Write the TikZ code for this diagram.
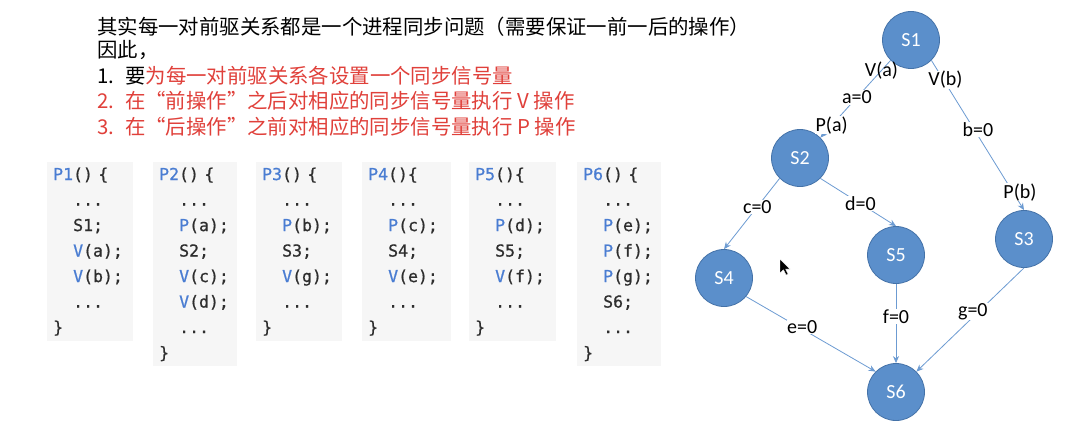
\documentclass[tikz,border=0pt]{standalone}
\usepackage{fontspec}
\usetikzlibrary{arrows.meta}
\newfontfamily\cjk{Noto Sans CJK SC}
\newfontfamily\codefont[FakeBold=0.8]{DejaVu Sans Mono}
\newfontfamily\labfont{Carlito}
\definecolor{nodefill}{HTML}{5B8FCB}
\definecolor{nodeline}{HTML}{4472A8}
\definecolor{edgecol}{HTML}{6C9BD2}
\definecolor{kwcol}{HTML}{4A7DD2}
\definecolor{codetxt}{HTML}{2E2E2E}
\definecolor{codebg}{HTML}{F6F6F6}
\definecolor{redtxt}{HTML}{E0403A}
\newcommand\kw[1]{\textcolor{kwcol}{#1}}
\newcommand\ind{\hspace*{20pt}}
\begin{document}
\begin{tikzpicture}[x=1pt,y=-1pt,
  proc/.style={circle, fill=nodefill, draw=nodeline, line width=0.8pt, minimum size=57pt, inner sep=0pt, text=white, font=\labfont\fontsize{20}{20}\selectfont},
  edge/.style={draw=edgecol, line width=0.8pt, -{Stealth[length=7pt,width=6pt]}},
  lbl/.style={fill=white, inner sep=0.5pt, font=\labfont\fontsize{20}{20}\selectfont, text=black},
  lblnf/.style={inner sep=0.5pt, font=\labfont\fontsize{20}{20}\selectfont, text=black},
  codebox/.style={anchor=north west, fill=codebg, inner xsep=6pt, inner ysep=0pt, align=left, text=codetxt, font=\codefont\fontsize{16.5}{25.5}\selectfont},
  cn/.style={anchor=west, inner sep=0pt, font=\cjk\fontsize{20.4}{24}\selectfont}]
\useasboundingbox[fill=white] (0,0) rectangle (1075,426);

% text
\node[cn] (t1) at (97,27) {其实每一对前驱关系都是一个进程同步问题（需要保证一前一后的操作）};
\node[cn] (t2) at (97,50) {因此，};
\node[cn] (t3) at (97,76) {\makebox[28pt][l]{1.}要\textcolor{redtxt}{为每一对前驱关系各设置一个同步信号量}};
\node[cn,text=redtxt] (t4) at (97,101) {\makebox[28pt][l]{2.}在“前操作”之后对相应的同步信号量执行 V 操作};
\node[cn,text=redtxt] (t5) at (97,127) {\makebox[28pt][l]{3.}在“后操作”之前对相应的同步信号量执行 P 操作};

% code boxes
\node[codebox, text width=74pt] (P1) at (47,162) {\strut\kw{P1}() \{\\\strut\ind ...\\\strut\ind S1;\\\strut\ind\kw{V}(a);\\\strut\ind\kw{V}(b);\\\strut\ind ...\\\strut\}};
\node[codebox, text width=72pt] (P2) at (153,162) {\strut\kw{P2}() \{\\\strut\ind ...\\\strut\ind\kw{P}(a);\\\strut\ind S2;\\\strut\ind\kw{V}(c);\\\strut\ind\kw{V}(d);\\\strut\ind ...\\\strut\}};
\node[codebox, text width=74pt] (P3) at (256,162) {\strut\kw{P3}() \{\\\strut\ind ...\\\strut\ind\kw{P}(b);\\\strut\ind S3;\\\strut\ind\kw{V}(g);\\\strut\ind ...\\\strut\}};
\node[codebox, text width=77pt] (P4) at (362,162) {\strut\kw{P4}()\{\\\strut\ind ...\\\strut\ind\kw{P}(c);\\\strut\ind S4;\\\strut\ind\kw{V}(e);\\\strut\ind ...\\\strut\}};
\node[codebox, text width=75pt] (P5) at (469,162) {\strut\kw{P5}()\{\\\strut\ind ...\\\strut\ind\kw{P}(d);\\\strut\ind S5;\\\strut\ind\kw{V}(f);\\\strut\ind ...\\\strut\}};
\node[codebox, text width=72pt] (P6) at (577,162) {\strut\kw{P6}() \{\\\strut\ind ...\\\strut\ind\kw{P}(e);\\\strut\ind\kw{P}(f);\\\strut\ind\kw{P}(g);\\\strut\ind S6;\\\strut\ind ...\\\strut\}};

% graph nodes
\node[proc] (S1) at (911,40) {S1};
\node[proc] (S2) at (800,158) {S2};
\node[proc] (S3) at (1024,239) {S3};
\node[proc] (S4) at (724,278) {S4};
\node[proc] (S5) at (896,255) {S5};
\node[proc] (S6) at (896,392) {S6};

% edges
\draw[edge] (S1.225) -- (S2.45)
  node[lblnf,pos=0.13] {V(a)} node[lbl,pos=0.48] {a=0} node[lbl,pos=0.84] {P(a)};
\draw[edge] (S1.-45) -- (S3.north)
  node[lbl,pos=0.13,xshift=2pt] {V(b)} node[lbl,pos=0.46,xshift=4pt] {b=0} node[lbl,pos=0.88,xshift=7pt] {P(b)};
\draw[edge] (S2.225) -- (S4.north) node[lbl,pos=0.4] {c=0};
\draw[edge] (S2.-45) -- (S5.north) node[lbl,pos=0.53] {d=0};
\draw[edge] (S4.-40) -- (S6.135) node[lbl,pos=0.41,xshift=3pt] {e=0};
\draw[edge] (S5.south) -- (S6.north) node[lbl,pos=0.41] {f=0};
\draw[edge] (S3.south) -- (S6.45) node[lbl,pos=0.42,xshift=-6pt] {g=0};

% mouse cursor
\fill[black, draw=white, line width=0.4pt] (780,259) -- (780,273) -- (783.5,269.8) -- (786,275) -- (788,274) -- (785.6,269) -- (790,269) -- cycle;
\end{tikzpicture}
\end{document}
